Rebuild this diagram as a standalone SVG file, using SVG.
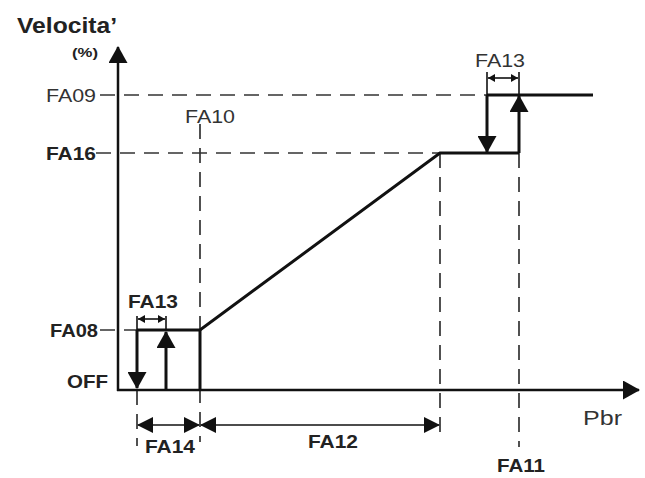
<svg xmlns="http://www.w3.org/2000/svg" width="645" height="478" viewBox="0 0 645 478">
<style>
  text { font-family: "Liberation Sans", Arial, sans-serif; fill: #222; }
  .b { font-weight: bold; }
  .n { fill: #333; }
  .axis { stroke: #111; stroke-width: 2.5; fill: none; }
  .thick { stroke: #111; stroke-width: 3; fill: none; }
  .dash { stroke: #333; stroke-width: 1.7; fill: none; stroke-dasharray: 15 9; }
  .thin { stroke: #111; stroke-width: 1.6; fill: none; }
</style>
<defs>
  <marker id="big" markerUnits="userSpaceOnUse" markerWidth="17" markerHeight="19" viewBox="0 0 17 19" refX="16" refY="9.5" orient="auto-start-reverse">
    <path d="M0,0 L17,9.5 L0,19 z" fill="#111"/>
  </marker>
  <marker id="dim" markerUnits="userSpaceOnUse" markerWidth="16" markerHeight="16" viewBox="0 0 16 16" refX="15" refY="8" orient="auto-start-reverse">
    <path d="M0,0 L16,8 L0,16 z" fill="#111"/>
  </marker>
  <marker id="small" markerUnits="userSpaceOnUse" markerWidth="7" markerHeight="8" viewBox="0 0 7 8" refX="7" refY="4" orient="auto-start-reverse">
    <path d="M0,0 L7,4 L0,8 z" fill="#111"/>
  </marker>
</defs>

<g id="guides">
  <line class="dash" x1="100" y1="95" x2="487" y2="95"/>
  <line class="dash" x1="96" y1="153" x2="440" y2="153"/>
  <line class="dash" x1="100" y1="330" x2="137" y2="330" stroke-dasharray="6 4"/>
  <line class="dash" x1="200" y1="124" x2="200" y2="442" stroke-dasharray="12 7"/>
  <line class="dash" x1="137" y1="390" x2="137" y2="446" stroke-dasharray="12 7"/>
  <line class="dash" x1="440" y1="153" x2="440" y2="432" stroke-dasharray="12 7"/>
  <line class="dash" x1="519" y1="153" x2="519" y2="447" stroke-dasharray="12 7"/>
</g>

<g id="axes">
  <line class="axis" x1="118" y1="391" x2="118" y2="47" marker-end="url(#big)"/>
  <line class="axis" x1="117" y1="390" x2="639" y2="390" marker-end="url(#big)"/>
</g>

<g id="connectors">
  <polyline class="thick" points="137,330 200,330 440,153 519,153"/>
  <line class="thick" x1="487" y1="95" x2="593" y2="95"/>
  <line class="thick" x1="200" y1="330" x2="200" y2="390"/>
  <line class="thick" x1="137" y1="330" x2="137" y2="388" marker-end="url(#big)"/>
  <line class="thick" x1="166" y1="390" x2="166" y2="332" marker-end="url(#big)"/>
  <line class="thick" x1="487" y1="95" x2="487" y2="152" marker-end="url(#big)"/>
  <line class="thick" x1="519" y1="153" x2="519" y2="96" marker-end="url(#big)"/>
</g>

<g id="dimensions">
  <line class="thin" x1="137" y1="316" x2="137" y2="330"/>
  <line class="thin" x1="166" y1="316" x2="166" y2="330"/>
  <line class="thin" x1="138" y1="319" x2="165" y2="319" marker-start="url(#small)" marker-end="url(#small)"/>
  <line class="thin" x1="487" y1="72" x2="487" y2="95"/>
  <line class="thin" x1="519" y1="72" x2="519" y2="95"/>
  <line class="thin" x1="488" y1="78" x2="518" y2="78" marker-start="url(#small)" marker-end="url(#small)"/>
  <line class="thin" x1="138" y1="425" x2="199" y2="425" marker-start="url(#dim)" marker-end="url(#dim)"/>
  <line class="thin" x1="201" y1="425" x2="439" y2="425" marker-start="url(#dim)" marker-end="url(#dim)"/>
</g>

<g id="labels">
  <text class="b" x="17" y="33" font-size="22" textLength="100" lengthAdjust="spacingAndGlyphs">Velocita’</text>
  <text class="b" x="72" y="57" font-size="12" textLength="26" lengthAdjust="spacingAndGlyphs">(%)</text>
  <text class="n" x="96" y="102" font-size="19" text-anchor="end" textLength="50" lengthAdjust="spacingAndGlyphs">FA09</text>
  <text class="b" x="96" y="160" font-size="19" text-anchor="end" textLength="50" lengthAdjust="spacingAndGlyphs">FA16</text>
  <text class="b" x="98" y="337" font-size="19" text-anchor="end" textLength="48" lengthAdjust="spacingAndGlyphs">FA08</text>
  <text class="b" x="108" y="388" font-size="19" text-anchor="end" textLength="41" lengthAdjust="spacingAndGlyphs">OFF</text>
  <text class="n" x="210" y="123" font-size="19" text-anchor="middle" textLength="50" lengthAdjust="spacingAndGlyphs">FA10</text>
  <text class="n" x="500" y="67" font-size="19" text-anchor="middle" textLength="50" lengthAdjust="spacingAndGlyphs">FA13</text>
  <text class="b" x="153" y="308" font-size="19" text-anchor="middle" textLength="50" lengthAdjust="spacingAndGlyphs">FA13</text>
  <text class="b" x="170" y="453" font-size="19" text-anchor="middle" textLength="50" lengthAdjust="spacingAndGlyphs">FA14</text>
  <text class="b" x="333" y="448" font-size="19" text-anchor="middle" textLength="50" lengthAdjust="spacingAndGlyphs">FA12</text>
  <text class="b" x="521" y="472" font-size="19" text-anchor="middle" textLength="48" lengthAdjust="spacingAndGlyphs">FA11</text>
  <text class="n" x="583" y="425" font-size="20" textLength="39" lengthAdjust="spacingAndGlyphs">Pbr</text>
</g>
</svg>
